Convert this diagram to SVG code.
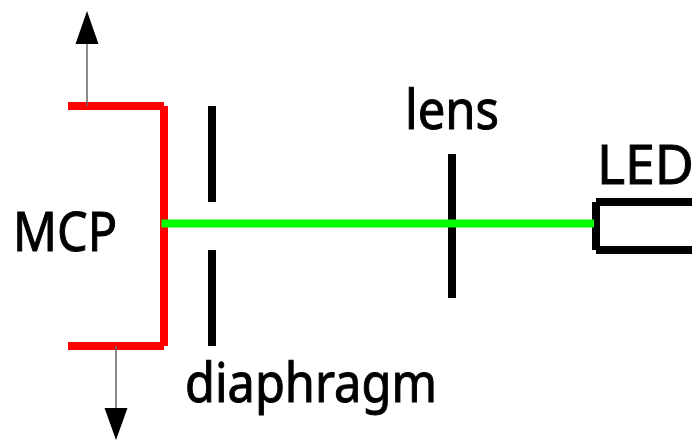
<svg xmlns="http://www.w3.org/2000/svg" width="699" height="440" viewBox="0 0 699 440">
<style>
.t{font-family:"Noto Sans","Open Sans","DejaVu Sans",sans-serif;font-size:54px;fill:#000;stroke:#000;stroke-width:1}
.red,.blk,.grn{fill:none;stroke-width:8;stroke-linecap:butt;stroke-linejoin:miter}
.red{stroke:#f00}.blk{stroke:#000}.grn{stroke:#0f0}
.thin{stroke:#666;stroke-width:1.500;fill:none}
</style>
<rect width="699" height="440" fill="#fff"/>
<g id="mcp">
<path class="red" d="M68 106H164M164 106V346M68 346H164"/>
<text class="t" x="13" y="251" textLength="104" lengthAdjust="spacingAndGlyphs">MCP</text>
</g>
<g id="diaphragm">
<path class="blk" d="M212 106V202M212 250V346"/>
<text class="t" x="185" y="402" textLength="252" lengthAdjust="spacingAndGlyphs">diaphragm</text>
</g>
<g id="lens">
<path class="blk" d="M452 154V298"/>
<text class="t" x="405" y="129" textLength="94" lengthAdjust="spacingAndGlyphs">lens</text>
</g>
<g id="led">
<path class="blk" d="M596 202H692M596 202V250M596 250H692"/>
<text class="t" x="597" y="184" textLength="97" lengthAdjust="spacingAndGlyphs">LED</text>
</g>
<g id="connectors">
<path class="grn" d="M161.500 223.500H594"/>
<path class="thin" d="M87 106V44M116 346V408"/>
<polygon points="87,11 75.500,44 98.500,44"/>
<polygon points="116,440 104.500,408 127.500,408"/>
</g>
</svg>
